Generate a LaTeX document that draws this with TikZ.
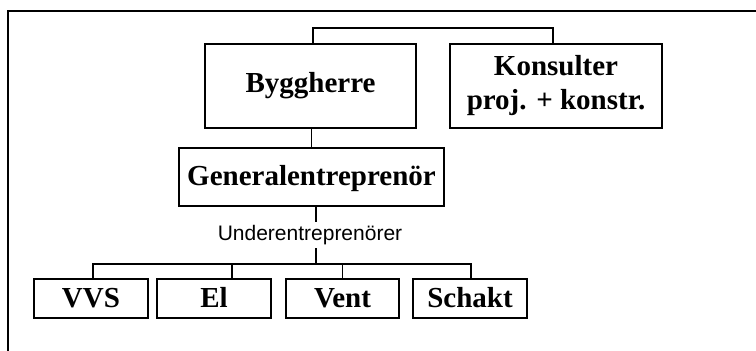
\documentclass[tikz,border=0pt]{standalone}
\usepackage{fontspec}
\setmainfont{Liberation Serif}
\newfontfamily\labelfont{Liberation Sans}
\begin{document}
\begin{tikzpicture}[x=1pt,y=-1pt,
  orgbox/.style={draw,line width=1.7pt,inner sep=0pt,align=center,
    font=\fontsize{29}{34}\selectfont\bfseries},
  subbox/.style={orgbox,minimum height=39pt,text height=20pt,text depth=3pt},
  link/.style={line width=1.5pt},
  grouplabel/.style={inner sep=0pt,minimum height=26pt,
    font=\labelfont\fontsize{21}{24}\selectfont}]
\useasboundingbox (0,0) rectangle (756,351);
\clip (0,0) rectangle (756,351);

% outer frame (runs past the page on the right and bottom)
\draw[line width=1.5pt] (8,11) rectangle (800,400);

% top level
\node[orgbox,minimum width=211pt,minimum height=84pt] (bygg) at (310.5,86) {Byggherre};
\node[orgbox,minimum width=212pt,minimum height=84pt] (kons) at (556,86) {Konsulter\\proj. + konstr.};
\draw[link] ([xshift=2.5pt]bygg.north) -- ++(0,-15) -| ([xshift=-3pt]kons.north);

% general contractor
\node[orgbox,minimum width=265pt,minimum height=58pt,text height=20pt,text depth=4pt] (gen) at (311.5,177) {Generalentreprenör};
\draw[link] (gen.north) -- (gen.north |- bygg.south);

% subcontractors
\node[grouplabel] (under) at (310,235) {Underentreprenörer};
\coordinate (bus) at (316,264);
\draw[link] (gen.south -| bus) -- (under.north -| bus);
\draw[link] (under.south -| bus) -- (bus);

\node[subbox,minimum width=114pt] (vvs) at (91,298.5) {VVS};
\node[subbox,minimum width=114pt] (el) at (214,298.5) {El};
\node[subbox,minimum width=113pt] (vent) at (342.5,298.5) {Vent};
\node[subbox,minimum width=114pt] (schakt) at (470,298.5) {Schakt};

\draw[link] ([xshift=2pt]vvs.north) |- (bus) -| ([xshift=1pt]schakt.north);
\draw[link] ([xshift=18pt]el.north) -- ([xshift=18pt]el.north |- bus);
\draw[link] (vent.north) -- (vent.north |- bus);
\end{tikzpicture}
\end{document}
